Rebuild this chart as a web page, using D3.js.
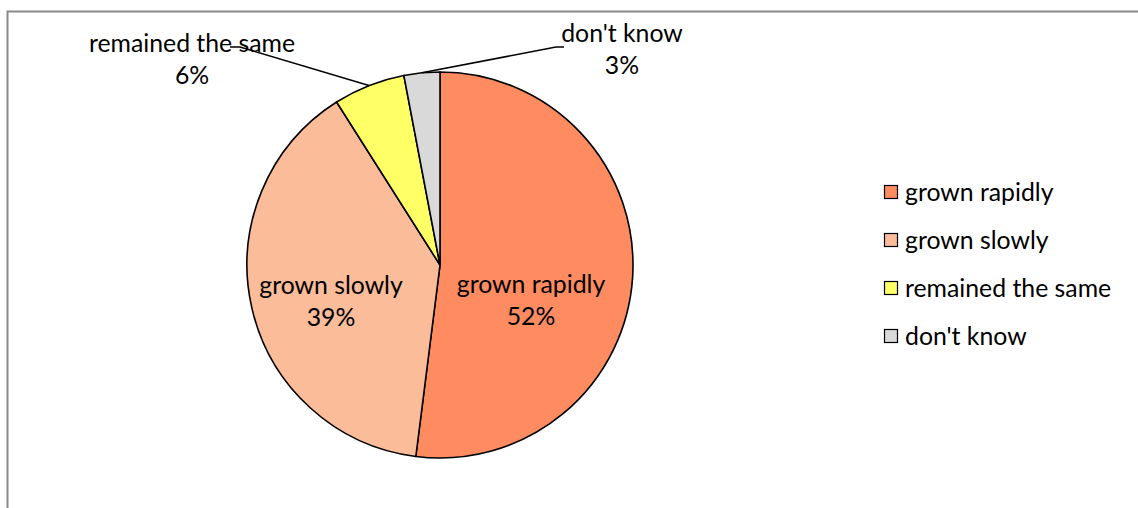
<!DOCTYPE html>
<html>
<head>
<meta charset="utf-8">
<script src="https://cdn.jsdelivr.net/npm/d3@7"></script>
<style>
  html, body { margin: 0; padding: 0; background: #fff; }
  svg { display: block; }
  text { font-family: "Lato", "Open Sans", sans-serif; fill: #000; }
</style>
</head>
<body>
<svg id="chart" width="1138" height="508"></svg>
<script>
// Survey answers and their shares (%)
const categories = ["grown rapidly", "grown slowly", "remained the same", "don't know"];
const shares = [52, 39, 6, 3];
const colors = ["#FF8B61", "#FBBC9A", "#FFFF66", "#D9D9D9"];

const W = 1138, H = 508;
const svg = d3.select("#chart");
const fontSize = 24.8;

// chart area frame (runs off the right and bottom edges)
svg.append("rect")
  .attr("x", 7.5).attr("y", 11.5)
  .attr("width", 1200).attr("height", 600)
  .attr("fill", "none")
  .attr("stroke", "#8a8a8a")
  .attr("stroke-width", 2);

const cx = 440, cy = 265, r = 193;
const pie = d3.pie().sort(null).value(d => d.value);
const arcs = pie(categories.map((c, i) => ({ name: c, value: shares[i], color: colors[i] })));
const arc = d3.arc().innerRadius(0).outerRadius(r);

const g = svg.append("g").attr("transform", `translate(${cx},${cy})`);

g.selectAll("path.slice")
  .data(arcs)
  .join("path")
  .attr("class", "slice")
  .attr("d", arc)
  .attr("fill", d => d.data.color)
  .attr("stroke", "#000")
  .attr("stroke-width", 1.6)
  .attr("stroke-linejoin", "round");

// label placement: inside for big slices, outside with leader lines for small ones
const labelPos = {
  "grown rapidly": { x: 531 - cx, y: 284 - cy, inside: true },
  "grown slowly": { x: 331 - cx, y: 285 - cy, inside: true },
  "remained the same": { x: 192 - cx, y: 43 - cy, lx: 240 - cx, ly: 47 - cy, tick: 10 },
  "don't know": { x: 622 - cx, y: 33 - cy, lx: 556 - cx, ly: 47 - cy, tick: -8 }
};

arcs.forEach(a => {
  const p = labelPos[a.data.name];
  if (!p.inside) {
    const mid = (a.startAngle + a.endAngle) / 2;
    const ex = r * Math.sin(mid), ey = -r * Math.cos(mid);
    const pts = [[ex, ey], [p.lx, p.ly], [p.lx - p.tick, p.ly]];
    g.append("path")
      .attr("d", d3.line()(pts))
      .attr("fill", "none")
      .attr("stroke", "#000")
      .attr("stroke-width", 1.5);
  }
  const t = g.append("text")
    .attr("text-anchor", "middle")
    .attr("font-size", fontSize);
  t.append("tspan").attr("x", p.x).attr("y", p.y).attr("dy", "0.35em").text(a.data.name);
  t.append("tspan").attr("x", p.x).attr("y", p.y + 32).attr("dy", "0.35em").text(a.data.value + "%");
});

// legend
const legend = svg.append("g").attr("transform", "translate(884,192)");
const rows = legend.selectAll("g")
  .data(categories)
  .join("g")
  .attr("transform", (d, i) => `translate(0,${i * 48})`);
rows.append("rect")
  .attr("x", 0.5).attr("y", -6.5)
  .attr("width", 13).attr("height", 13)
  .attr("fill", (d, i) => colors[i])
  .attr("stroke", "#000")
  .attr("stroke-width", 1.2);
rows.append("text")
  .attr("x", 21).attr("y", 0).attr("dy", "0.35em")
  .attr("font-size", fontSize)
  .text(d => d);
</script>
</body>
</html>
